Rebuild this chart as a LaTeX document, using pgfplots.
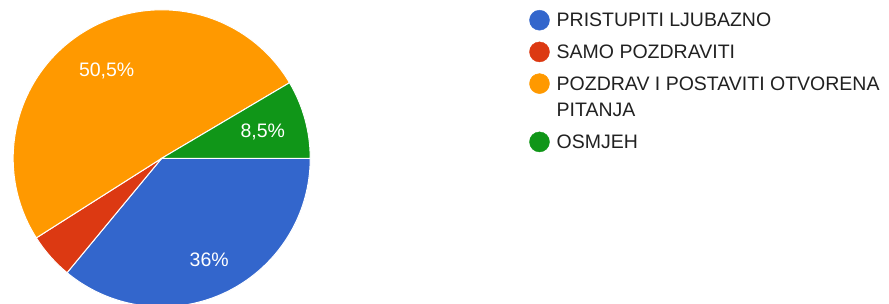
\documentclass[border=0pt]{standalone}
\usepackage{pgfplots}
\pgfplotsset{compat=1.18}
\usepackage{fontspec}
\setmainfont{Liberation Sans}
\definecolor{gblue}{HTML}{3366CC}
\definecolor{gred}{HTML}{DC3912}
\definecolor{gorange}{HTML}{FF9900}
\definecolor{ggreen}{HTML}{109618}
\definecolor{txt}{HTML}{212121}
% data (percent)
\def\pA{36}   % PRISTUPITI LJUBAZNO
\def\pB{5}    % SAMO POZDRAVITI
\def\pC{50.5} % POZDRAV I POSTAVITI OTVORENA PITANJA
\def\pD{8.5}  % OSMJEH
\pgfmathsetmacro\aZ{0}
\pgfmathsetmacro\aA{\aZ-3.6*\pA}
\pgfmathsetmacro\aB{\aA-3.6*\pB}
\pgfmathsetmacro\aC{\aB-3.6*\pC}
\pgfmathsetmacro\aD{\aC-3.6*\pD}
\def\R{148.5pt}
\newcommand\lfont{\fontsize{19.5}{26.6}\selectfont}
\begin{document}
\begin{tikzpicture}
\useasboundingbox (0,0) rectangle (889pt,304pt);
\begin{axis}[
  at={(161.7pt,145.7pt)}, anchor=center,
  x=148.5pt, y=148.5pt,
  xmin=-1, xmax=1, ymin=-1, ymax=1,
  hide axis, clip=false,
  legend image code/.code={\fill[#1] (0pt,0pt) circle (10pt);},
  legend cell align=left,
  legend style={draw=none, fill=none, inner sep=0pt, outer sep=0pt,
    at={(1.7377,1.0003)}, anchor=north west,
    font=\lfont, text=txt, column sep=7pt, row sep=10.7pt,
    nodes={inner sep=0pt, text height=17pt, text depth=4pt}},
]
\fill[gblue, draw=white, line width=1pt] (axis cs:0,0) -- ++(\aZ:\R) arc[start angle=\aZ, end angle=\aA, radius=\R] -- cycle;
\fill[gred, draw=white, line width=1pt] (axis cs:0,0) -- ++(\aA:\R) arc[start angle=\aA, end angle=\aB, radius=\R] -- cycle;
\fill[gorange, draw=white, line width=1pt] (axis cs:0,0) -- ++(\aB:\R) arc[start angle=\aB, end angle=\aC, radius=\R] -- cycle;
\fill[ggreen, draw=white, line width=1pt] (axis cs:0,0) -- ++(\aC:\R) arc[start angle=\aC, end angle=\aD, radius=\R] -- cycle;
\node[white, font=\lfont, anchor=base] at (axis cs:-0.3704,0.5495) {50,5\%};
\node[white, font=\lfont, anchor=base] at (axis cs:0.681,0.1387) {8,5\%};
\node[white, font=\lfont, anchor=base] at (axis cs:0.320,-0.730) {36\%};
\addlegendimage{gblue}
\addlegendentry{PRISTUPITI LJUBAZNO}
\addlegendimage{gred}
\addlegendentry{SAMO POZDRAVITI}
\addlegendimage{gorange}
\addlegendentry{POZDRAV I POSTAVITI OTVORENA}
\addlegendimage{empty legend}
\addlegendentry[text height=11.9pt]{PITANJA}
\addlegendimage{ggreen}
\addlegendentry{OSMJEH}
\end{axis}
\end{tikzpicture}
\end{document}
